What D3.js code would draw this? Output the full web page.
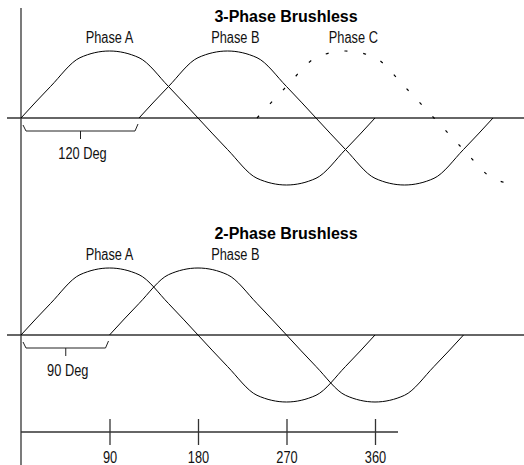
<!DOCTYPE html>
<html>
<head>
<meta charset="utf-8">
<script src="https://cdn.jsdelivr.net/npm/d3@7"></script>
<style>
  body { margin: 0; background: #fff; }
  svg { display: block; }
  .label { font-family: "Liberation Sans Narrow", "Arial Narrow", "Liberation Sans", sans-serif; font-size: 16px; fill: #111; }
  .title { font-family: "Liberation Sans", Arial, sans-serif; font-size: 16px; font-weight: bold; fill: #000; }
</style>
</head>
<body>
<div id="chart"></div>
<script>
// one electrical cycle, every 30 degrees
var cycleDeg = [0, 30, 60, 90, 120, 150, 180, 210, 240, 270, 300, 330, 360];
var cycleVal = [0, 0.47, 0.9, 1, 0.9, 0.47, 0, -0.47, -0.9, -1, -0.9, -0.47, 0];

var threeNames = ["Phase A", "Phase B", "Phase C"];
var threeStart = [0, 120, 240];
var threeDashed = [false, false, true];
var threeLabelDeg = [90, 218, 338];

var twoNames = ["Phase A", "Phase B"];
var twoStart = [0, 90];
var twoLabelDeg = [90, 218];

var axisTicks = [90, 180, 270, 360];

var width = 524;
var height = 465;

var svg = d3.select("#chart").append("svg")
    .attr("width", width)
    .attr("height", height);

var x = d3.scaleLinear().domain([0, 360]).range([21, 375]);
var maxDeg = x.invert(514);

svg.append("defs").append("clipPath")
    .attr("id", "clip")
    .append("rect")
    .attr("x", 0).attr("y", 0)
    .attr("width", x(maxDeg)).attr("height", height);

// vertical line
svg.append("line")
    .attr("x1", x(0)).attr("x2", x(0))
    .attr("y1", 8).attr("y2", height)
    .attr("stroke", "#333").attr("stroke-width", 1.3);

function drawPanel(axisY, title, names, starts, labelDeg, dashed, bracketDeg, bracketText) {
    var y = d3.scaleLinear().domain([-1, 1]).range([axisY + 67, axisY - 67]);
    var line = d3.line()
        .x(function(d) { return x(d[0]); })
        .y(function(d) { return y(d[1]); })
        .curve(d3.curveMonotoneX);

    svg.append("line")
        .attr("x1", 7).attr("x2", width)
        .attr("y1", axisY).attr("y2", axisY)
        .attr("stroke", "#333").attr("stroke-width", 1.3);

    var g = svg.append("g").attr("clip-path", "url(#clip)");
    starts.forEach(function(s, i) {
        var pts = cycleDeg.map(function(d, j) { return [s + d, cycleVal[j]]; });
        g.append("path")
            .attr("d", line(pts))
            .attr("fill", "none")
            .attr("stroke", "#000")
            .attr("stroke-width", dashed[i] ? 1.2 : 1)
            .attr("stroke-dasharray", dashed[i] ? "3,16" : null);
    });

    svg.append("text")
        .attr("class", "title")
        .attr("x", 286)
        .attr("y", axisY - 96)
        .attr("text-anchor", "middle")
        .text(title);

    names.forEach(function(n, i) {
        svg.append("text")
            .attr("class", "label")
            .attr("x", x(labelDeg[i]))
            .attr("y", axisY - 75)
            .attr("text-anchor", "middle")
            .text(n);
    });

    // phase offset bracket
    var bl = x(0) + 2, br = x(bracketDeg) - 1, bm = (bl + br) / 2;
    svg.append("path")
        .attr("d", "M" + bl + "," + (axisY + 7) + "L" + (bl + 3) + "," + (axisY + 13) +
            "L" + (br - 3) + "," + (axisY + 13) + "L" + br + "," + (axisY + 6))
        .attr("fill", "none")
        .attr("stroke", "#222");
    svg.append("line")
        .attr("x1", bm).attr("x2", bm)
        .attr("y1", axisY + 13).attr("y2", axisY + 21)
        .attr("stroke", "#222");
    svg.append("text")
        .attr("class", "label")
        .attr("x", bm + 2)
        .attr("y", axisY + 41)
        .attr("text-anchor", "middle")
        .text(bracketText);
}

drawPanel(118, "3-Phase Brushless", threeNames, threeStart, threeLabelDeg, threeDashed, 120, "120 Deg");
drawPanel(335, "2-Phase Brushless", twoNames, twoStart, twoLabelDeg, [false, false], 90, "90 Deg");

// degree axis at the bottom
var axisG = svg.append("g")
    .attr("transform", "translate(0,432)")
    .call(d3.axisBottom(x).tickValues(axisTicks).tickSize(13).tickFormat(d3.format("d")));
axisG.select(".domain").remove();
axisG.selectAll(".tick line")
    .attr("y1", -13)
    .attr("stroke", "#333")
    .attr("stroke-width", 1.3);
axisG.selectAll(".tick text")
    .attr("class", "label")
    .attr("y", 31)
    .attr("dy", 0)
    .style("font-size", "16px");
axisG.append("line")
    .attr("x1", x(0)).attr("x2", 398)
    .attr("y1", 0).attr("y2", 0)
    .attr("stroke", "#333").attr("stroke-width", 1.3);

// the original lettering is a condensed face; squeeze the regular one to match
svg.selectAll(".label").each(function() {
    var w = this.getComputedTextLength();
    d3.select(this)
        .attr("textLength", w * 0.8)
        .attr("lengthAdjust", "spacingAndGlyphs");
});
</script>
</body>
</html>
